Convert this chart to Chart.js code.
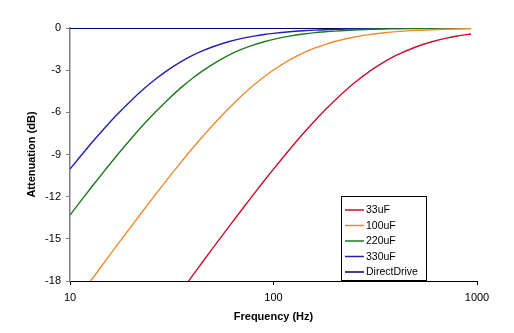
<!DOCTYPE html>
<html>
<head>
<meta charset="utf-8">
<script src="https://cdn.jsdelivr.net/npm/chart.js@4"></script>
<style>
  html, body { margin: 0; padding: 0; background: #fff; }
  #wrap { width: 514px; height: 333px; position: relative; }
</style>
</head>
<body>
<div id="wrap"><canvas id="c" width="514" height="333"></canvas></div>
<script>
// Frequencies (Hz)
const freqs = [10, 11, 12, 13, 15, 17, 20, 23, 26, 30, 35, 40, 45, 50, 60, 70, 80, 90, 100,
               120, 140, 160, 180, 200, 250, 300, 350, 400, 500, 600, 700, 800, 935];
// Attenuation (dB)
const att33uF = [-29.59, -28.76, -28.01, -27.31, -26.07, -24.99, -23.58, -22.37, -21.32, -20.08, -18.76, -17.62, -16.61, -15.72, -14.19, -12.91, -11.82, -10.87, -10.04,
                 -8.64, -7.51, -6.58, -5.80, -5.15, -3.90, -3.03, -2.41, -1.95, -1.35, -0.98, -0.74, -0.57, -0.43];
const att100uF = [-20.00, -19.18, -18.43, -17.75, -16.53, -15.47, -14.11, -12.95, -11.94, -10.79, -9.58, -8.56, -7.70, -6.95, -5.74, -4.80, -4.06, -3.47, -2.99,
                  -2.27, -1.77, -1.42, -1.16, -0.96, -0.64, -0.45, -0.34, -0.26, -0.17, -0.12, -0.09, -0.07, -0.05];
const att220uF = [-13.31, -12.53, -11.82, -11.17, -10.04, -9.07, -7.86, -6.87, -6.05, -5.15, -4.26, -3.57, -3.03, -2.60, -1.95, -1.51, -1.20, -0.98, -0.81,
                  -0.58, -0.43, -0.33, -0.27, -0.22, -0.14, -0.10, -0.07, -0.06, -0.04, -0.02, -0.02, -0.01, -0.01];
const att330uF = [-10.04, -9.30, -8.64, -8.04, -7.02, -6.17, -5.15, -4.34, -3.70, -3.03, -2.41, -1.95, -1.61, -1.35, -0.98, -0.74, -0.58, -0.46, -0.38,
                  -0.27, -0.20, -0.15, -0.12, -0.10, -0.06, -0.04, -0.03, -0.02, -0.02, -0.01, -0.01, -0.01, 0.00];
const attDirect = [0, 0, 0, 0, 0, 0, 0, 0, 0, 0, 0, 0, 0, 0, 0, 0, 0, 0, 0,
                   0, 0, 0, 0, 0, 0, 0, 0, 0, 0, 0, 0, 0, 0];
const seriesNames = ['33uF', '100uF', '220uF', '330uF', 'DirectDrive'];
const xTickValues = [10, 100, 1000];
const yTickMin = -18, yTickMax = 0, yTickStep = 3;

const seriesColors = ['#C8102E', '#EE8A34', '#1E7A1E', '#2020B0', '#000066'];
const seriesData = [att33uF, att100uF, att220uF, att330uF, attDirect];

const datasets = seriesData.map((arr, i) => ({
  label: seriesNames[i],
  data: arr.map((v, j) => ({ x: freqs[j], y: v })),
  borderColor: seriesColors[i],
  backgroundColor: seriesColors[i],
  borderWidth: i === 4 ? 2 : 1.4,
  pointRadius: 0,
  cubicInterpolationMode: 'monotone',
  fill: false
}));

const boxLegend = {
  id: 'boxLegend',
  afterDraw(chart) {
    const ctx = chart.ctx;
    const x0 = 341, y0 = 196, w = 86, h = 85;
    ctx.save();
    ctx.fillStyle = '#fff';
    ctx.fillRect(x0, y0, w, h);
    ctx.strokeStyle = '#000';
    ctx.lineWidth = 1;
    ctx.strokeRect(x0 + 0.5, y0 + 0.5, w - 1, h - 1);
    ctx.font = '10.5px "Liberation Sans", Arial, sans-serif';
    ctx.textBaseline = 'middle';
    ctx.textAlign = 'left';
    chart.data.datasets.forEach((ds, i) => {
      const yy = 210 + i * 15.5;
      ctx.strokeStyle = ds.borderColor;
      ctx.lineWidth = 1.5;
      ctx.beginPath();
      ctx.moveTo(345, yy);
      ctx.lineTo(364, yy);
      ctx.stroke();
      ctx.fillStyle = '#000';
      ctx.fillText(ds.label, 366, yy + 0.5);
    });
    ctx.restore();
  }
};

new Chart(document.getElementById('c'), {
  type: 'line',
  data: { datasets },
  plugins: [boxLegend],
  options: {
    responsive: false,
    animation: false,
    layout: { padding: { left: 0, top: 28, right: 37, bottom: 0 } },
    plugins: { legend: { display: false }, tooltip: { enabled: false } },
    scales: {
      x: {
        type: 'logarithmic',
        min: 10,
        max: 1000,
        afterFit(s) { s.height = 52; },
        afterBuildTicks(s) { s.ticks = xTickValues.map(v => ({ value: v })); },
        ticks: {
          color: '#000',
          font: { family: '"Liberation Sans", Arial, sans-serif', size: 11 },
          padding: 6,
          maxRotation: 0,
          autoSkip: false,
          callback: (v) => String(v)
        },
        grid: { drawOnChartArea: false, drawTicks: true, tickLength: 4, tickColor: '#000' },
        border: { color: '#000', width: 1 },
        title: {
          display: true,
          text: 'Frequency (Hz)',
          color: '#000',
          font: { family: '"Liberation Sans", Arial, sans-serif', size: 11, weight: 'bold' },
          padding: { top: 0, bottom: 9 }
        }
      },
      y: {
        min: yTickMin,
        max: yTickMax,
        afterFit(s) { s.width = 70; },
        ticks: {
          stepSize: yTickStep,
          color: '#000',
          font: { family: '"Liberation Sans", Arial, sans-serif', size: 11 },
          padding: 5
        },
        grid: { drawOnChartArea: false, drawTicks: true, tickLength: 4, tickColor: '#808080' },
        border: { color: '#808080', width: 1.5 },
        title: {
          display: true,
          text: 'Attenuation (dB)',
          color: '#000',
          font: { family: '"Liberation Sans", Arial, sans-serif', size: 11, weight: 'bold' },
          padding: { top: 25, bottom: 0 }
        }
      }
    }
  }
});
</script>
</body>
</html>
